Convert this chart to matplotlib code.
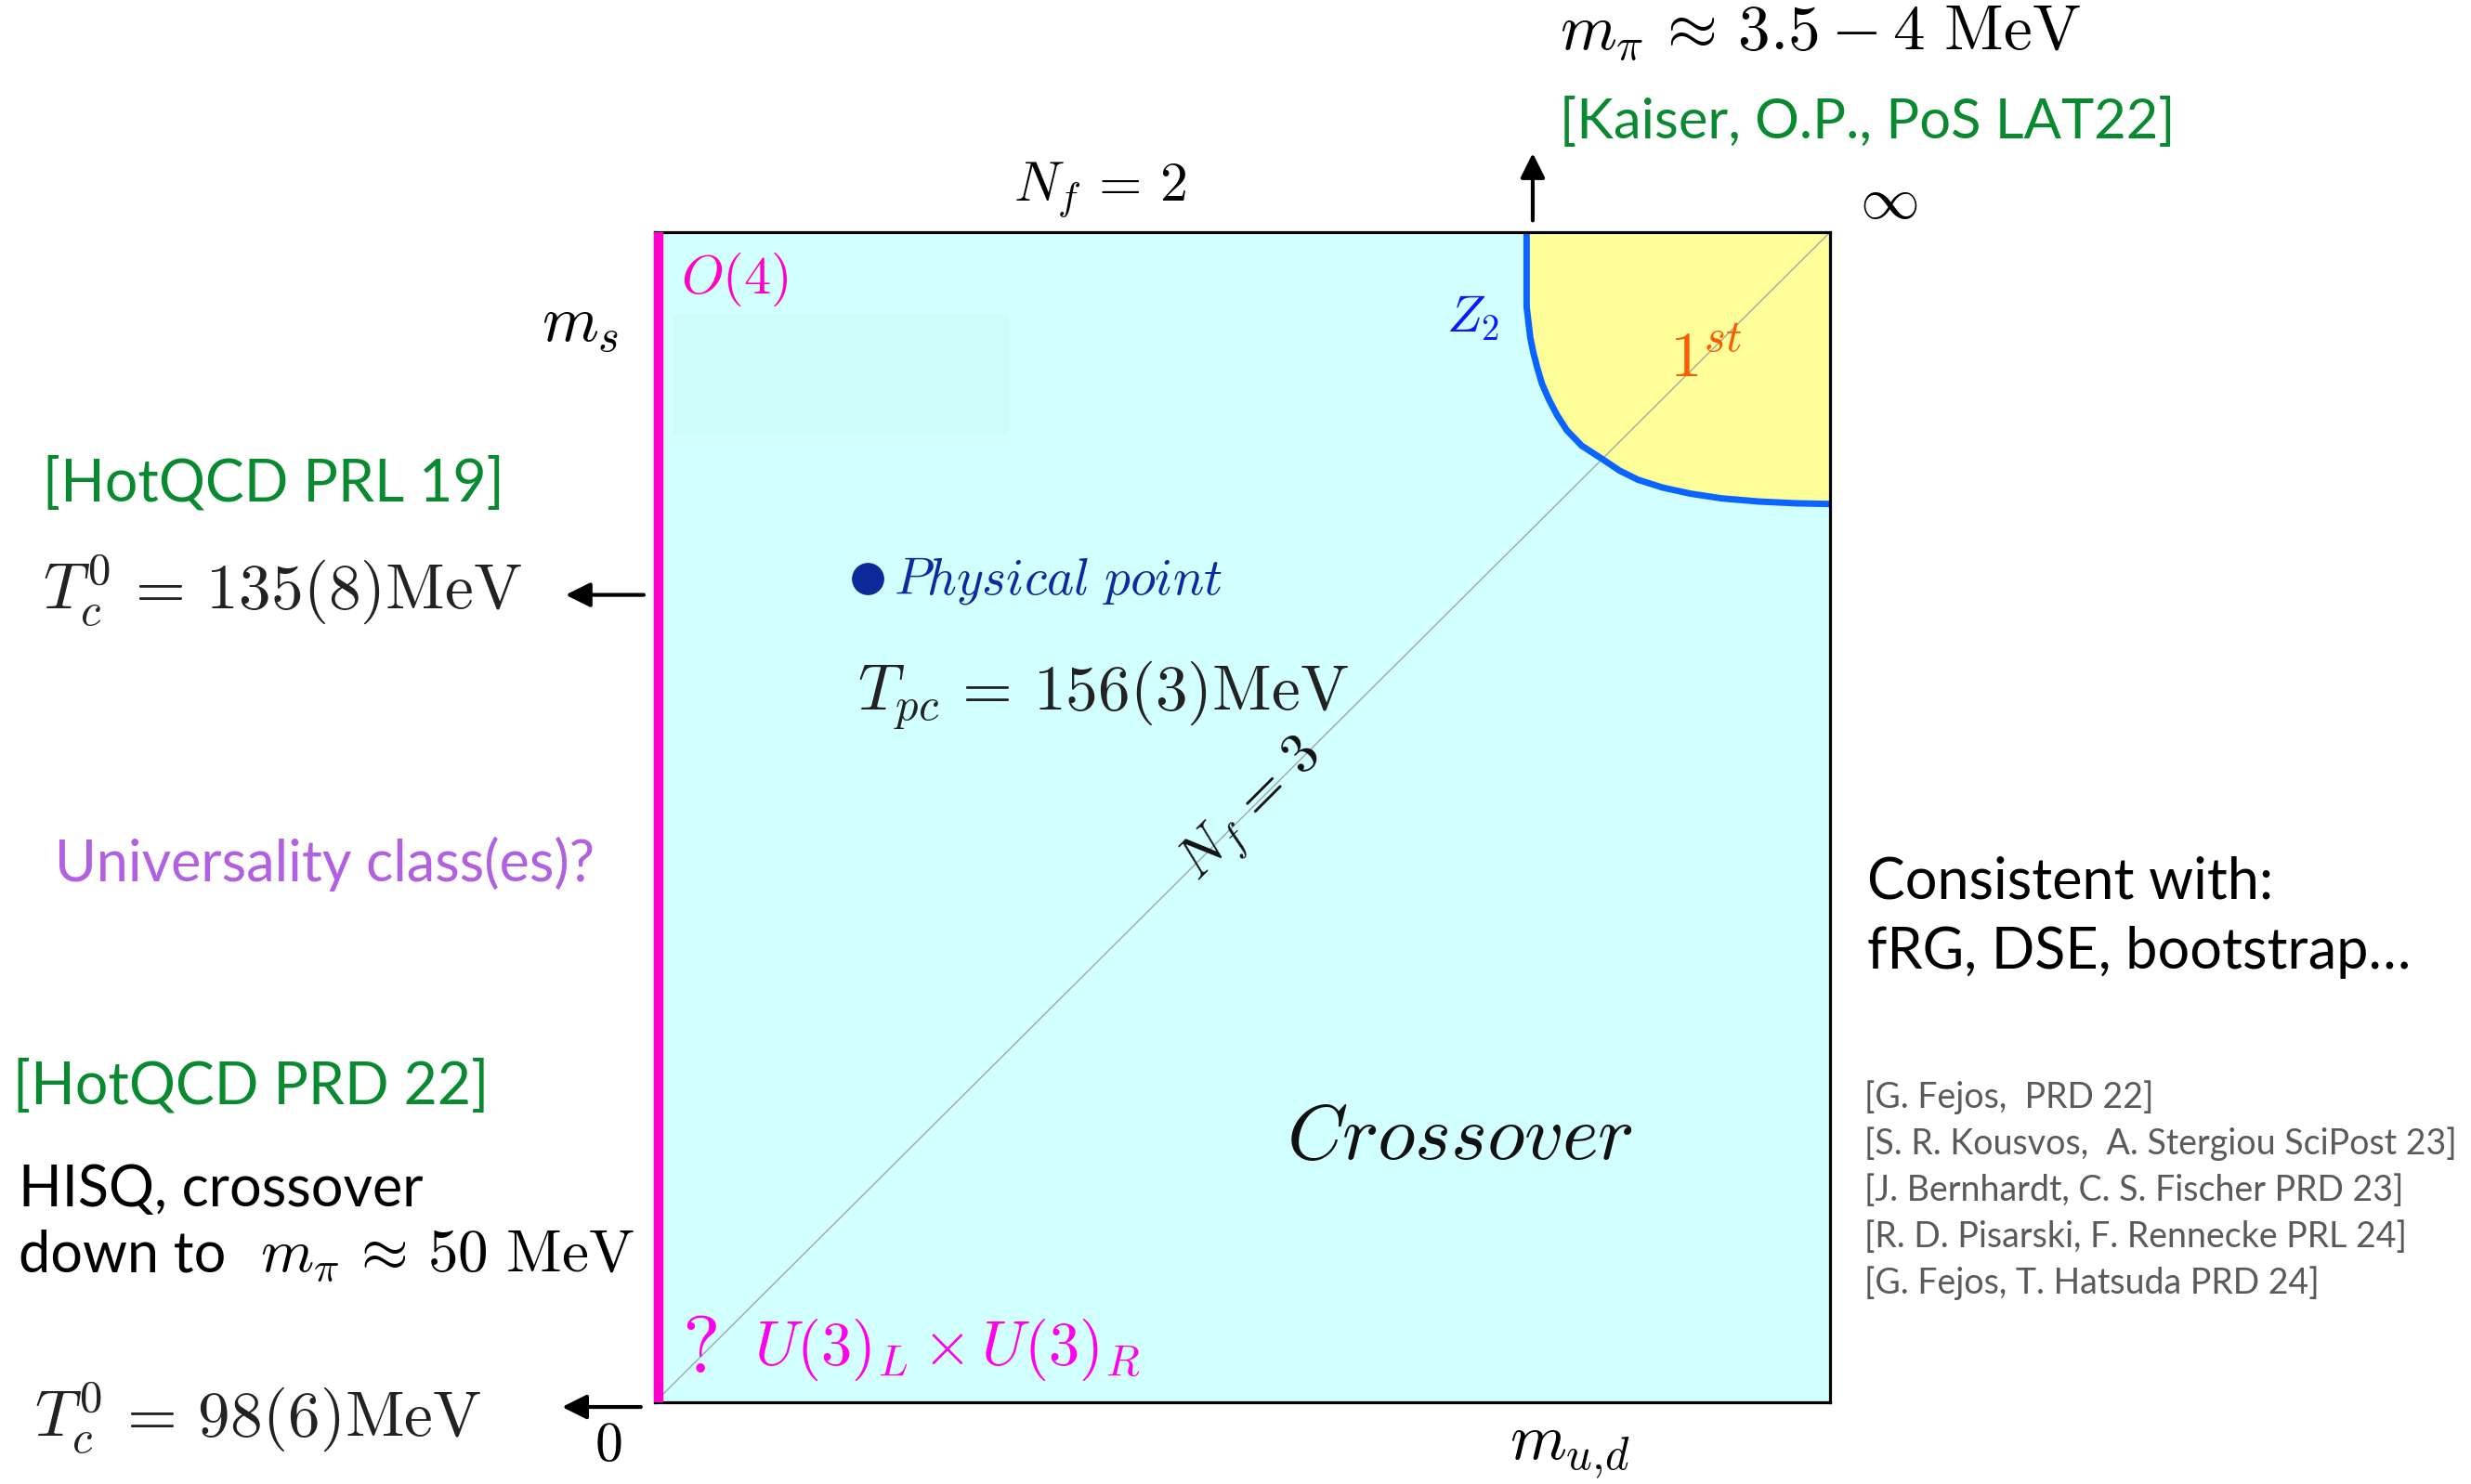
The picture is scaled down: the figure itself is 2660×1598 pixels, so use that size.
import matplotlib
matplotlib.use("Agg")
import matplotlib.pyplot as plt

plt.rcParams['mathtext.fontset'] = 'cm'
plt.rcParams['font.family'] = ['Lato', 'DejaVu Sans']

W, H = 2660, 1598

# Z2 critical line (m_ud, m_s)
z2_x = [0.7418, 0.7418, 0.7449, 0.7476, 0.7510, 0.7549, 0.7607, 0.7676, 0.7760, 0.7887,
        0.8050, 0.8208, 0.8366, 0.8577, 0.8814, 0.9078, 0.9394, 0.9710, 1.0]
z2_y = [1.0, 0.9365, 0.9101, 0.8968, 0.8836, 0.8704, 0.8571, 0.8439, 0.8307, 0.8175,
        0.8069, 0.7963, 0.7884, 0.7817, 0.7765, 0.7725, 0.7698, 0.7683, 0.7677]

# physical point
phys_x, phys_y = 0.181, 0.704

refs = ["[G. Fejos,  PRD 22]",
        "[S. R. Kousvos,  A. Stergiou SciPost 23]",
        "[J. Bernhardt, C. S. Fischer PRD 23]",
        "[R. D. Pisarski, F. Rennecke PRL 24]",
        "[G. Fejos, T. Hatsuda PRD 24]"]

GREEN = '#0a8a30'
PINK = '#ff00cc'
MAG = '#ff00ee'
SANS = 44

fig = plt.figure(figsize=(W / 100, H / 100), dpi=100)
ax = fig.add_axes([705 / W, 1 - 1510 / H, 1265 / W, 1260 / H])
ax.set_xlim(0, 1)
ax.set_ylim(0, 1)
ax.set_xticks([])
ax.set_yticks([])
ax.set_facecolor('#d2ffff')
for sp in ax.spines.values():
    sp.set_linewidth(2.3)
    sp.set_zorder(10)

# first order region
ax.fill(z2_x + [1.0], z2_y + [1.0], color='#ffff99', zorder=1)
# faint box left over from the slide
ax.fill([0.016, 0.30, 0.30, 0.016], [0.828, 0.828, 0.929, 0.929], color='#d0fbfb', zorder=1)
# N_f = 3 diagonal
ax.plot([0, 1], [0, 1], color='#a0a8a8', lw=1, zorder=2)
ax.plot(z2_x, z2_y, color='#0a64ff', lw=5, zorder=3, solid_capstyle='butt',
        solid_joinstyle='round')
ax.plot([0.003, 0.003], [0, 1], color=PINK, lw=7.5, zorder=11, solid_capstyle='butt',
        clip_on=False)
ax.plot([phys_x], [phys_y], 'o', color='#0a2a9a', ms=24, zorder=5)

# labels inside the box
ax.text(0.022, 0.9595, r'$O(4)$', color=PINK, fontsize=42, va='center', ha='left')
ax.text(0.696, 0.926, r'$Z_2$', color='#0a1aff', fontsize=40, va='center', ha='center')
ax.text(0.894, 0.892, r'$1^{st}$', color='#ff5a00', fontsize=50, va='center', ha='center')
ax.text(0.2035, 0.702, r'$\mathit{Physical\ point}$', color='#0a2aa0', fontsize=40,
        va='center', ha='left')
ax.text(0.1726, 0.6037, r'$T_{pc} \,=\, 156(3)\mathrm{MeV}$', color='#222222', fontsize=50,
        va='center', ha='left')
ax.text(0.508, 0.505, r'$N_f \,=\, 3$', color='#111111', fontsize=44, va='center',
        ha='center', rotation=45)
ax.text(0.685, 0.226, r'$\mathit{Crossover}$', color='#111111', fontsize=60, va='center',
        ha='center')
ax.text(0.038, 0.0445, r'$?$', color=MAG, fontsize=62, va='center', ha='center')
ax.text(0.0847, 0.0445, r'$U(3)_L \times U(3)_R$', color=MAG, fontsize=48, va='center',
        ha='left')

# arrows
arr = dict(arrowstyle='-|>', lw=3, color='k', mutation_scale=40, shrinkA=0, shrinkB=0)
ax.annotate('', xy=(-0.076, 0.690), xytext=(-0.0095, 0.690), arrowprops=arr,
            annotation_clip=False)
ax.annotate('', xy=(-0.079, -0.004), xytext=(-0.012, -0.004), arrowprops=arr,
            annotation_clip=False)
ax.annotate('', xy=(0.747, 1.0675), xytext=(0.747, 1.010), arrowprops=arr,
            annotation_clip=False)


def ftext(x, y, s, **kw):
    kw.setdefault('va', 'center')
    kw.setdefault('ha', 'left')
    fig.text(x / W, 1 - y / H, s, **kw)


ftext(1679, 37, r'$m_\pi \,\approx\, 3.5 - 4\ \mathrm{MeV}$', fontsize=50)
ftext(1679, 132, '[Kaiser, O.P., PoS LAT22]', fontsize=43, color=GREEN)
ftext(2033, 217, r'$\infty$', fontsize=46, ha='center')
ftext(1184, 204, r'$N_f \,=\, 2$', fontsize=43, ha='center')
ftext(625, 351, r'$m_s$', fontsize=50, ha='center')
ftext(46, 521, '[HotQCD PRL 19]', fontsize=SANS + 1, color=GREEN)
ftext(46, 636, r'$T_c^0 \,=\, 135(8)\mathrm{MeV}$', fontsize=50, color='#222222')
ftext(59, 930, 'Universality class(es)?', fontsize=SANS, color='#b060e0')
ftext(2010, 950, 'Consistent with:', fontsize=SANS)
ftext(2010, 1026, 'fRG, DSE, bootstrap\u2026', fontsize=SANS)
ftext(14, 1170, '[HotQCD PRD 22]', fontsize=SANS + 1, color=GREEN)
ftext(20, 1282, 'HISQ, crossover', fontsize=SANS)
ftext(20, 1352, 'down to', fontsize=SANS)
ftext(280, 1352, r'$m_\pi \,\approx\, 50\ \mathrm{MeV}$', fontsize=47)
for i, r in enumerate(refs):
    ftext(2007, 1182 + i * 50, r, fontsize=27, color='#5a5a5a')
ftext(37, 1527, r'$T_c^0 \,=\, 98(6)\mathrm{MeV}$', fontsize=50, color='#222222')
ftext(655, 1556, r'$0$', fontsize=43, ha='center')
ftext(1690, 1564, r'$m_{u{,}d}$', fontsize=50, ha='center')

fig.savefig('out.png', dpi=100)
